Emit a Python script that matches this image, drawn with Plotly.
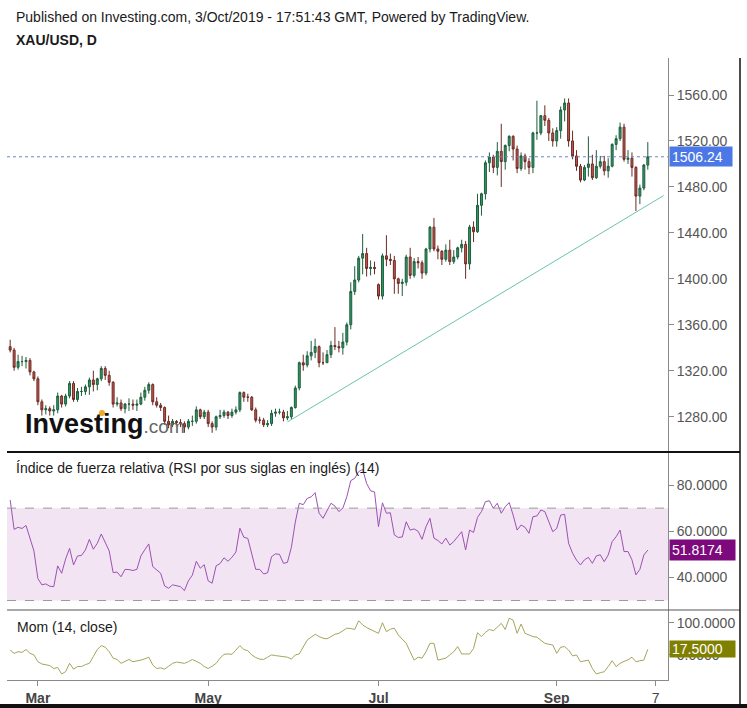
import plotly.graph_objects as go
import pandas as pd

# ---------------- data ----------------
trade_dates = pd.bdate_range("2019-02-20", "2019-10-03")
axis_dates = pd.bdate_range("2019-02-20", "2019-10-15")

opens = [1341, 1338, 1323, 1328, 1328, 1329, 1319,
         1313, 1293, 1286, 1287, 1285, 1286, 1298, 1291, 1298, 1309, 1295, 1302, 1302, 1306, 1312, 1308, 1313, 1322, 1316, 1310, 1291,
         1292, 1287, 1291, 1291, 1290, 1291, 1297, 1303, 1308, 1293, 1290, 1288, 1276, 1273, 1276, 1275, 1274, 1271, 1276, 1276, 1286, 1280,
         1284, 1274, 1271, 1280, 1281, 1284, 1281, 1284, 1286, 1301, 1297, 1297, 1286, 1277, 1277, 1273, 1274, 1283, 1284, 1284, 1279, 1280, 1288,
         1305, 1327, 1325, 1333, 1336, 1341, 1327, 1327, 1334, 1342, 1341, 1340, 1345, 1360, 1389, 1399, 1418, 1422, 1409, 1410,
         1395, 1385, 1420, 1417, 1416, 1400, 1396, 1397, 1419, 1403, 1415, 1414, 1405, 1426, 1445, 1426, 1424, 1417, 1425, 1415, 1419, 1427, 1430,
         1413, 1445, 1441, 1464, 1474, 1501, 1506, 1497, 1511, 1502, 1516, 1524, 1513, 1496, 1507, 1502, 1497, 1527, 1527, 1542, 1538, 1527,
         1520, 1529, 1547, 1553, 1520, 1507, 1498, 1486, 1497, 1500, 1488, 1498, 1502, 1494, 1498, 1517, 1522, 1532, 1504, 1505, 1497,
         1472, 1479, 1499]
highs = [1347, 1340, 1334, 1333, 1332, 1331, 1320,
         1315, 1295, 1290, 1289, 1290, 1301, 1299, 1300, 1311, 1311, 1305, 1306, 1308, 1314, 1320, 1314, 1324, 1324, 1320, 1311, 1297,
         1295, 1292, 1296, 1295, 1295, 1301, 1306, 1310, 1309, 1297, 1292, 1289, 1281, 1278, 1277, 1278, 1276, 1278, 1281, 1289, 1287, 1286,
         1286, 1276, 1281, 1286, 1286, 1285, 1287, 1289, 1302, 1302, 1300, 1298, 1288, 1280, 1279, 1277, 1286, 1287, 1287, 1286, 1285, 1289, 1307,
         1328, 1334, 1337, 1346, 1348, 1342, 1336, 1338, 1346, 1358, 1346, 1353, 1362, 1397, 1411, 1420, 1439, 1427, 1416, 1415,
         1396, 1422, 1438, 1422, 1420, 1401, 1400, 1421, 1427, 1418, 1419, 1416, 1427, 1446, 1453, 1429, 1425, 1430, 1434, 1425, 1428, 1434, 1433,
         1447, 1450, 1474, 1475, 1503, 1510, 1508, 1519, 1535, 1517, 1525, 1525, 1516, 1510, 1509, 1505, 1528, 1555, 1542, 1551, 1540, 1531,
         1532, 1550, 1557, 1557, 1529, 1512, 1500, 1499, 1524, 1508, 1512, 1507, 1507, 1505, 1518, 1525, 1536, 1535, 1512, 1510, 1498,
         1482, 1500, 1519]
lows = [1336, 1320, 1321, 1324, 1322, 1316, 1311,
        1290, 1281, 1282, 1281, 1281, 1283, 1288, 1289, 1296, 1293, 1293, 1298, 1299, 1299, 1302, 1303, 1311, 1312, 1307, 1288, 1289,
        1285, 1283, 1285, 1286, 1285, 1290, 1294, 1300, 1290, 1288, 1285, 1273, 1270, 1271, 1273, 1271, 1266, 1269, 1272, 1274, 1278, 1278,
        1271, 1266, 1268, 1278, 1279, 1278, 1279, 1282, 1284, 1293, 1293, 1285, 1275, 1274, 1271, 1271, 1272, 1280, 1282, 1276, 1277, 1278, 1287,
        1303, 1320, 1323, 1329, 1331, 1323, 1325, 1327, 1331, 1338, 1336, 1334, 1342, 1356, 1386, 1397, 1404, 1402, 1403, 1404,
        1382, 1382, 1411, 1412, 1387, 1387, 1385, 1394, 1400, 1401, 1409, 1400, 1403, 1423, 1424, 1417, 1412, 1415, 1412, 1413, 1417, 1423, 1400,
        1408, 1432, 1440, 1455, 1469, 1493, 1492, 1490, 1480, 1495, 1511, 1503, 1492, 1494, 1495, 1491, 1492, 1521, 1525, 1533, 1520, 1515,
        1515, 1522, 1537, 1515, 1504, 1494, 1484, 1485, 1489, 1486, 1487, 1496, 1490, 1488, 1497, 1512, 1520, 1502, 1500, 1489, 1459,
        1465, 1477, 1495]
closes = [1338, 1323, 1328, 1328, 1329, 1319, 1313,
          1293, 1286, 1287, 1285, 1286, 1298, 1291, 1298, 1309, 1295, 1302, 1302, 1306, 1312, 1308, 1313, 1322, 1316, 1310, 1291, 1292,
          1287, 1291, 1291, 1290, 1291, 1297, 1303, 1308, 1293, 1290, 1288, 1276, 1273, 1276, 1275, 1274, 1271, 1276, 1276, 1286, 1280, 1284,
          1274, 1271, 1280, 1281, 1284, 1281, 1284, 1286, 1301, 1297, 1297, 1286, 1277, 1277, 1273, 1274, 1283, 1284, 1284, 1279, 1280, 1288, 1305,
          1327, 1325, 1333, 1336, 1341, 1327, 1327, 1334, 1342, 1341, 1340, 1345, 1360, 1389, 1399, 1418, 1422, 1409, 1410, 1409,
          1385, 1420, 1417, 1416, 1400, 1396, 1397, 1419, 1403, 1415, 1414, 1405, 1426, 1445, 1426, 1424, 1417, 1425, 1415, 1419, 1427, 1430, 1413,
          1445, 1441, 1464, 1474, 1501, 1506, 1497, 1511, 1502, 1516, 1524, 1513, 1496, 1507, 1502, 1497, 1527, 1527, 1542, 1538, 1527, 1520,
          1529, 1547, 1553, 1520, 1507, 1498, 1486, 1497, 1500, 1488, 1498, 1502, 1494, 1498, 1517, 1522, 1532, 1504, 1505, 1497, 1472,
          1479, 1499, 1506.24]

rsi = [73.5, 60.8, 61.7, 61.2, 62.5, 56.5, 51.5,
       39.5, 36.8, 37.2, 36.2, 36.0, 45.0, 41.8, 48.0, 52.6, 45.4, 49.3, 49.5, 51.9, 56.5, 52.2, 54.8, 58.8, 55.1, 51.5, 42.1, 42.3,
       40.3, 43.5, 43.4, 43.0, 43.5, 49.3, 52.0, 54.5, 44.7, 43.2, 41.8, 36.3, 35.3, 36.8, 36.3, 36.0, 34.3, 38.5, 41.0, 47.0, 44.0, 45.5,
       38.5, 37.5, 45.0, 46.0, 48.5, 47.0, 48.7, 51.0, 61.3, 57.4, 56.9, 50.5, 43.5, 43.5, 41.5, 42.0, 49.0, 50.2, 50.0, 46.1, 46.5, 53.0, 64.0,
       72.1, 71.5, 74.2, 74.9, 76.7, 67.8, 65.6, 69.2, 72.1, 70.9, 68.5, 70.0, 74.9, 81.9, 82.9, 85.8, 86.8, 80.7, 77.5, 77.0,
       62.0, 72.3, 67.8, 68.0, 58.4, 57.3, 57.5, 64.1, 60.5, 61.0, 60.0, 56.5, 62.0, 65.6, 57.0, 56.0, 54.5, 57.0, 54.0, 55.5, 57.5, 59.8, 51.9,
       60.5, 59.5, 66.0, 68.5, 72.8, 73.2, 69.9, 72.1, 67.8, 70.6, 72.4, 67.0, 60.5, 62.7, 61.7, 59.1, 66.3, 66.6, 69.2, 68.5, 64.1, 59.8,
       61.2, 67.0, 67.3, 54.8, 50.5, 47.5, 45.4, 47.6, 48.7, 46.1, 49.3, 49.8, 46.8, 49.7, 55.5, 57.6, 60.5, 51.2, 51.2, 47.6, 41.1,
       43.5, 49.7, 51.8174]

mom = [15, 5, 10, 8, 17, 5, 0,
       -21, -28, -30, -33, -42, -39, -59, -52, -26, -44, -36, -36, -30, -26, -5, 17, 29, 24, 10, -10, -14,
       -26, -20, -14, -21, -19, -16, -12, -7, -31, -42, -40, -44, -35, -26, -22, -24, -26, -21, -14, -20, -26, -36,
       -42, -35, -26, -10, 2, 3, 2, 15, 29, 17, 13, 0, -8, -13, -14, -7, 0, -2, -3, -5, -7, -13, 0,
       3, 26, 46, 55, 64, 57, 52, 50, 58, 64, 67, 75, 83, 82, 79, 106, 93, 85, 79, 72,
       67, 100, 72, 80, 83, 62, 48, 36, 10, -16, -7, -10, 10, 36, 36, -16, -13, -10, 0, 10, 26, 3, 3,
       3, 20, 69, 57, 70, 79, 75, 86, 98, 79, 114, 108, 67, 96, 67, 62, 57, 55, 45, 36, 33, 31,
       5, 24, 26, 15, -3, 0, -21, -18, -16, -42, -59, -55, -52, -36, -18, -36, -26, -20, -15, -7, -21,
       -18, -16, 17.5]

tick_dates = ["2019-03-01", "2019-05-01", "2019-07-01", "2019-09-02", "2019-10-07"]
tick_text = ["<b>Mar</b>", "<b>May</b>", "<b>Jul</b>", "<b>Sep</b>", "7"]
price_ticks = [1280, 1320, 1360, 1400, 1440, 1480, 1520, 1560]
rsi_ticks = [40, 60, 80]
rsi_bands = [30, 70]
mom_ticks = [0, 100]
trend_dates = ["2019-05-29", "2019-10-09"]
trend_prices = [1275.4, 1472.5]
last_price = closes[-1]

# ---------------- helpers ----------------
pos = {d: i for i, d in enumerate(axis_dates)}
x_idx = [pos[d] for d in trade_dates]
tick_vals = [pos[pd.Timestamp(d)] for d in tick_dates]
trend_x = [pos[pd.Timestamp(d)] for d in trend_dates]

W, H = 747, 708
ML, MR, MT, MB = 7, 79, 58, 28
PW, PH = W - ML - MR, H - MT - MB


def px2x(px):
    return (px - ML) / PW


def py2y(py):
    return (H - MB - py) / PH


FONT = "Liberation Sans, Arial, sans-serif"
AX_COL = "#8a8a8a"
LBL_COL = "#555555"
XR = [-0.8, 166.1]
SEP1, SEP2 = 452, 610

fig = go.Figure()

fig.add_trace(go.Candlestick(
    x=x_idx, open=opens, high=highs, low=lows, close=closes,
    xaxis="x", yaxis="y", whiskerwidth=0,
    increasing=dict(line=dict(color="#1f5c3d", width=1), fillcolor="#2f9a66"),
    decreasing=dict(line=dict(color="#6a2a24", width=1), fillcolor="#c7564a"),
    showlegend=False))

fig.add_trace(go.Scatter(x=x_idx, y=rsi, mode="lines", xaxis="x2", yaxis="y2",
                         line=dict(color="#9c52b4", width=1), showlegend=False))

fig.add_trace(go.Scatter(x=x_idx, y=mom, mode="lines", xaxis="x3", yaxis="y3",
                         line=dict(color="#a5a55c", width=1), showlegend=False))

d_price = [py2y(SEP1), 1.0]
d_rsi = [py2y(SEP2), py2y(SEP1)]
d_mom = [0.0, py2y(SEP2)]

yax_common = dict(side="right", showgrid=False, zeroline=False, showline=True, automargin=False,
                  linecolor=AX_COL, linewidth=1, ticks="outside", ticklen=5,
                  tickcolor=AX_COL, tickfont=dict(size=14, color=LBL_COL, family=FONT))

fig.update_layout(
    width=W, height=H,
    margin=dict(l=ML, r=MR, t=MT, b=MB, autoexpand=False),
    paper_bgcolor="white", plot_bgcolor="white",
    font=dict(family=FONT, size=14, color="#222"),
    showlegend=False,
    xaxis=dict(domain=[0, 1], anchor="y", range=XR, showticklabels=False, showgrid=False, automargin=False,
               zeroline=False, showline=False, ticks="", rangeslider=dict(visible=False)),
    xaxis2=dict(domain=[0, 1], anchor="y2", range=XR, showticklabels=False, showgrid=False, automargin=False,
                zeroline=False, showline=False, ticks=""),
    xaxis3=dict(domain=[0, 1], anchor="y3", range=XR, showgrid=False, zeroline=False, automargin=False,
                showline=True, linecolor=AX_COL, linewidth=1, ticks="outside", ticklen=5,
                tickcolor=AX_COL, tickvals=tick_vals, ticktext=tick_text,
                tickfont=dict(size=14, color="#444", family=FONT)),
    yaxis=dict(domain=d_price, anchor="x", range=[1249.3, 1592.2], tickvals=price_ticks,
               tickformat=".2f", **yax_common),
    yaxis2=dict(domain=d_rsi, anchor="x2", range=[25.9, 94.3], tickvals=rsi_ticks,
                tickformat=".4f", **yax_common),
    yaxis3=dict(domain=d_mom, anchor="x3", range=[-77.7, 139.4], tickvals=mom_ticks,
                tickformat=".4f", **yax_common),
)

shapes = []
# RSI band + dashed bounds
shapes.append(dict(type="rect", xref="paper", yref="y2", x0=0, x1=1, y0=rsi_bands[0], y1=rsi_bands[1],
                   fillcolor="#f2e4f2", line=dict(width=0), layer="below"))
for b in rsi_bands:
    shapes.append(dict(type="line", xref="paper", yref="y2", x0=0, x1=1, y0=b, y1=b,
                       line=dict(color="#9a9a9a", width=1, dash="dash")))
# last price dotted line
shapes.append(dict(type="line", xref="paper", yref="y", x0=0, x1=1, y0=last_price, y1=last_price,
                   line=dict(color="#6c86cc", width=1, dash="dot")))
# trend line
shapes.append(dict(type="line", xref="x", yref="y", x0=trend_x[0], x1=trend_x[1],
                   y0=trend_prices[0], y1=trend_prices[1], line=dict(color="#6cc2b0", width=1)))
# panel separators and borders
shapes.append(dict(type="line", xref="paper", yref="paper", x0=0, x1=px2x(740),
                   y0=py2y(SEP1), y1=py2y(SEP1), line=dict(color="#111", width=2)))
shapes.append(dict(type="line", xref="paper", yref="paper", x0=0, x1=px2x(740),
                   y0=py2y(SEP2), y1=py2y(SEP2), line=dict(color="#555", width=1)))
shapes.append(dict(type="line", xref="paper", yref="paper", x0=px2x(740), x1=px2x(740),
                   y0=py2y(58), y1=py2y(708), line=dict(color="#111", width=1.5)))
shapes.append(dict(type="rect", xref="paper", yref="paper", x0=px2x(0), x1=px2x(747),
                   y0=py2y(704), y1=py2y(708), fillcolor="#111", line=dict(width=0)))
# orange tittle of the logo
shapes.append(dict(type="circle", xref="paper", yref="paper", x0=px2x(99), x1=px2x(105),
                   y0=py2y(416), y1=py2y(410), fillcolor="#f5a623", line=dict(width=0)))
fig.update_layout(shapes=shapes)

ann = []
ann.append(dict(x=px2x(14), y=py2y(17), xref="paper", yref="paper", xanchor="left", yanchor="middle",
                text="Published on Investing.com, 3/Oct/2019 - 17:51:43 GMT, Powered by TradingView.",
                showarrow=False, font=dict(size=14, color="#1a1a1a", family=FONT)))
ann.append(dict(x=px2x(14), y=py2y(40), xref="paper", yref="paper", xanchor="left", yanchor="middle",
                text="<b>XAU/USD, D</b>", showarrow=False, font=dict(size=14, color="#1a1a1a", family=FONT)))
ann.append(dict(x=px2x(14), y=py2y(468), xref="paper", yref="paper", xanchor="left", yanchor="middle",
                text="Índice de fuerza relativa (RSI por sus siglas en inglés) (14)", showarrow=False,
                font=dict(size=14, color="#1a1a1a", family=FONT)))
ann.append(dict(x=px2x(15), y=py2y(627), xref="paper", yref="paper", xanchor="left", yanchor="middle",
                text="Mom (14, close)", showarrow=False, font=dict(size=14, color="#1a1a1a", family=FONT)))
ann.append(dict(x=px2x(23), y=py2y(424), xref="paper", yref="paper", xanchor="left", yanchor="middle",
                text="<b>Investing</b><span style='font-size:19px;color:#666666'>.com</span>",
                showarrow=False, font=dict(size=27, color="#111111", family=FONT)))
# last value labels
ann.append(dict(x=px2x(669), y=last_price, xref="paper", yref="y", xanchor="left", yanchor="middle",
                text=f"{last_price:.2f}", showarrow=False, bgcolor="#4b78e6", width=58, height=15,
                align="left", borderpad=2, font=dict(size=14, color="white", family=FONT)))
ann.append(dict(x=px2x(669), y=rsi[-1], xref="paper", yref="y2", xanchor="left", yanchor="middle",
                text=f"{rsi[-1]:.4f}", showarrow=False, bgcolor="#7d0a7d", width=61, height=16,
                align="left", borderpad=2, font=dict(size=14, color="white", family=FONT)))
ann.append(dict(x=px2x(669), y=mom[-1], xref="paper", yref="y3", xanchor="left", yanchor="middle",
                text=f"{mom[-1]:.4f}", showarrow=False, bgcolor="#808000", width=61, height=12,
                align="left", borderpad=2, font=dict(size=14, color="white", family=FONT)))
fig.update_layout(annotations=ann)

fig.write_html("out.html")
